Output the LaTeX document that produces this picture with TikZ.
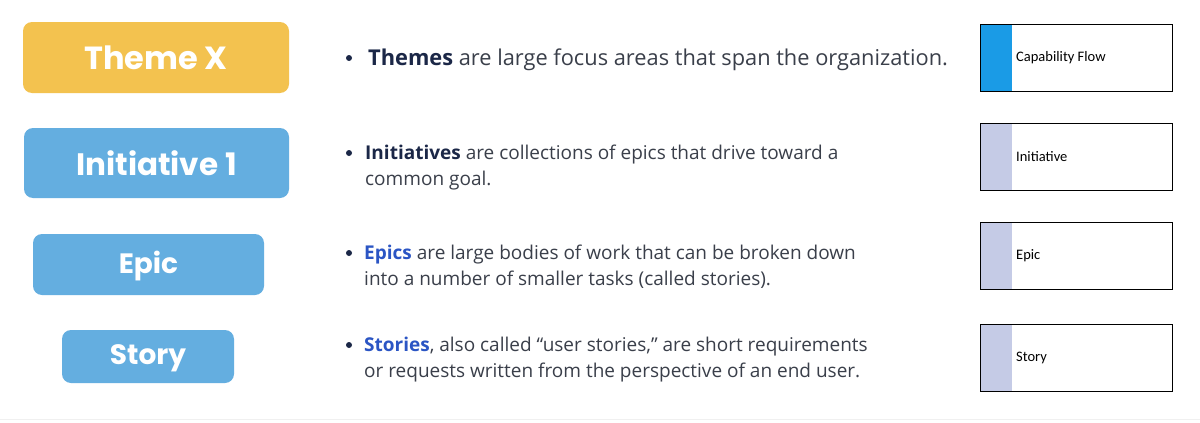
\documentclass[tikz,border=0pt]{standalone}
\usepackage{fontspec}
\setmainfont{Open Sans}
\newfontfamily\boxfont{Poppins}
\newfontfamily\calfont{Carlito}
\usetikzlibrary{positioning}
\definecolor{themeyellow}{HTML}{F3C24F}
\definecolor{levelblue}{HTML}{64AEE0}
\definecolor{navy}{HTML}{1B2747}
\definecolor{linkblue}{HTML}{2B55C4}
\definecolor{bodygray}{HTML}{3A3F4A}
\definecolor{flowblue}{HTML}{1A9BE6}
\definecolor{paleblue}{HTML}{C5CBE6}

\begin{document}
\begin{tikzpicture}[x = 1pt, y = -1pt]
\tikzstyle{LevelStyle}=[draw = none, rounded corners = 9pt,
                         text = white, font = \boxfont\bfseries]
\tikzstyle{LineStyle}=[anchor = base west, inner sep = 0pt,
                        text = bodygray, font = \fontsize{19}{22}\selectfont]
\tikzstyle{BulletStyle}=[circle, fill = navy, inner sep = 0pt, minimum size = 6pt]
\tikzstyle{CardStyle}=[draw = black, line width = 0.8pt]
\tikzstyle{CardText}=[anchor = west, inner sep = 0pt,
                       font = \calfont\fontsize{14.5}{16}\selectfont]
\useasboundingbox (0,0) rectangle (1200,423);
\fill[white] (0,0) rectangle (1200,423);
\draw[black!6, line width = 1pt] (0,419) -- (1200,419);

% left column
\fill[themeyellow, rounded corners = 9pt] (23,22) rectangle (289,93);
\node[LevelStyle, font = \boxfont\bfseries\fontsize{32}{36}\selectfont] (theme) at (156,57.5) {Theme X};
\fill[levelblue, rounded corners = 9pt] (24,128) rectangle (289,198);
\node[LevelStyle, font = \boxfont\bfseries\fontsize{31}{36}\selectfont] (initiative) at (156.5,163) {Initiative 1};
\fill[levelblue, rounded corners = 9pt] (33,234) rectangle (264,295);
\node[LevelStyle, font = \boxfont\bfseries\fontsize{28}{32}\selectfont] (epic) at (148.5,266) {Epic};
\fill[levelblue, rounded corners = 9pt] (62,330) rectangle (234,383);
\node[LevelStyle, font = \boxfont\bfseries\fontsize{28}{32}\selectfont] (story) at (148,358) {Story};

% middle column
\node[BulletStyle] (b1) at (349,58) {};
\node[LineStyle, font = \fontsize{21.8}{26}\selectfont] (t1) at (368,65)
  {\textcolor{navy}{\bfseries Themes} are large focus areas that span the organization.};
\node[BulletStyle] (b2) at (349,153) {};
\node[LineStyle] (t2a) at (365,159)
  {\textcolor{navy}{\bfseries Initiatives} are collections of epics that drive toward a};
\node[LineStyle] (t2b) at (365,185) {common goal.};
\node[BulletStyle] (b3) at (349,253) {};
\node[LineStyle] (t3a) at (364,259)
  {\textcolor{linkblue}{\bfseries Epics} are large bodies of work that can be broken down};
\node[LineStyle] (t3b) at (364,285) {into a number of smaller tasks (called stories).};
\node[BulletStyle] (b4) at (349,345) {};
\node[LineStyle] (t4a) at (364,351)
  {\textcolor{linkblue}{\bfseries Stories}, also called “user stories,” are short requirements};
\node[LineStyle] (t4b) at (364,377) {or requests written from the perspective of an end user.};

% right column
\fill[flowblue] (980,24) rectangle (1012,91);
\draw[CardStyle] (980,24) rectangle (1172,91);
\node[CardText] (c1) at (1016,58) {Capability Flow};
\fill[paleblue] (980,123) rectangle (1012,190);
\draw[CardStyle] (980,123) rectangle (1172,190);
\node[CardText] (c2) at (1016,157) {Initiative};
\fill[paleblue] (980,222) rectangle (1012,289);
\draw[CardStyle] (980,222) rectangle (1172,289);
\node[CardText] (c3) at (1016,256) {Epic};
\fill[paleblue] (980,324) rectangle (1012,391);
\draw[CardStyle] (980,324) rectangle (1172,391);
\node[CardText] (c4) at (1016,358) {Story};
\end{tikzpicture}
\end{document}
